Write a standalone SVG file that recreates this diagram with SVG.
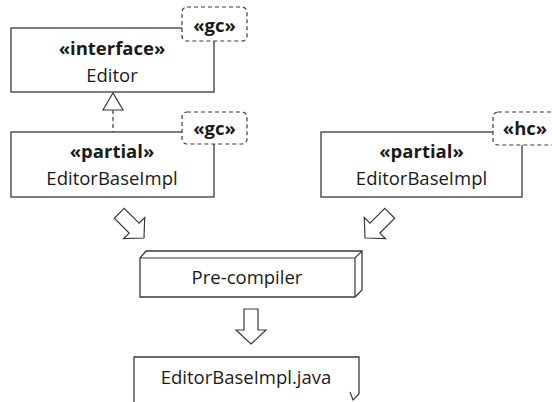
<svg xmlns="http://www.w3.org/2000/svg" width="552" height="402" viewBox="0 0 552 402">
<style>
.box{fill:#fff;stroke:#3a3a3a;stroke-width:1.3}
.tag{fill:#fff;stroke:#3a3a3a;stroke-width:1.2;stroke-dasharray:4 3}
.t{font-family:"Open Sans","Noto Sans",sans-serif;font-size:18.5px;fill:#1a1a1a;text-anchor:middle}
.b{font-weight:bold}
.arr{fill:#fff;stroke:#3a3a3a;stroke-width:1.2;stroke-linejoin:miter}
.ln{fill:none;stroke:#3a3a3a;stroke-width:1.2}
</style>
<defs>
<path id="blk" d="M0,0 L-14,-15 L-14,-7 L-35,-7 L-35,7 L-14,7 L-14,15 Z"/>
</defs>
<g id="connectors">
<line class="ln" x1="113" y1="110" x2="113" y2="132" stroke-dasharray="4 3"/>
<path class="arr" d="M113,93 L103,110 L123,110 Z"/>
<use href="#blk" class="arr" transform="translate(144,238) rotate(45)"/>
<use href="#blk" class="arr" transform="translate(365,238) rotate(135)"/>
<use href="#blk" class="arr" transform="translate(251,344) rotate(90)"/>
</g>
<g id="editor">
<rect class="box" x="11" y="28" width="203" height="64"/>
<text class="t b" x="112" y="55">«interface»</text>
<text class="t" x="112" y="82">Editor</text>
<rect class="tag" x="182" y="7" width="65" height="34" rx="5"/>
<text class="t b" x="214.5" y="32">«gc»</text>
</g>
<g id="partial-gc">
<rect class="box" x="11" y="132" width="203" height="65"/>
<text class="t b" x="112" y="158">«partial»</text>
<text class="t" x="112" y="185">EditorBaseImpl</text>
<rect class="tag" x="182" y="112" width="65" height="32" rx="5"/>
<text class="t b" x="214.5" y="135">«gc»</text>
</g>
<g id="partial-hc">
<rect class="box" x="321" y="132" width="201" height="65"/>
<text class="t b" x="421.5" y="158">«partial»</text>
<text class="t" x="421.5" y="185">EditorBaseImpl</text>
<rect class="tag" x="493" y="112" width="65" height="33" rx="5"/>
<text class="t b" x="525" y="135">«hc»</text>
</g>
<g id="precompiler">
<path class="box" d="M140,258 L146,251 L362,251 L362,290 L355,297 L140,297 Z"/>
<path class="ln" d="M140,258 L355,258 L362,251 M355,258 L355,297"/>
<text class="t" x="247" y="284">Pre-compiler</text>
</g>
<g id="java">
<path class="box" d="M134,402 L134,357 L359,357 L359,394"/>
<path class="ln" d="M359,394 L353,400 L350,392"/>
<text class="t" x="246" y="384">EditorBaseImpl.java</text>
</g>
</svg>
